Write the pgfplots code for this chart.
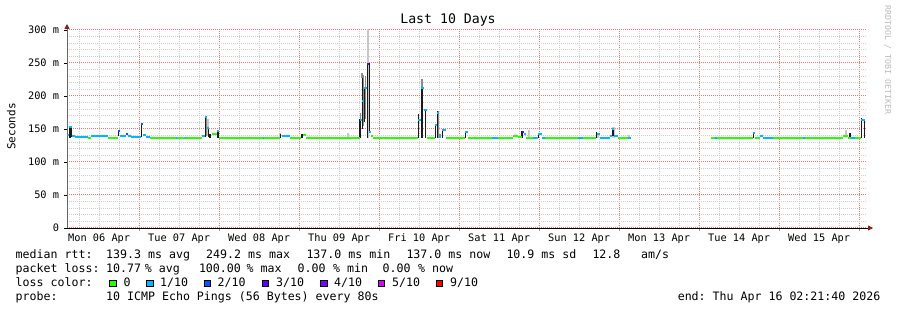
\documentclass[border=0pt]{standalone}
\usepackage{fontspec}
\setmainfont{DejaVu Sans Mono}
\usepackage{pgfplots}
\pgfplotsset{compat=1.18}
\usetikzlibrary{arrows.meta}
\definecolor{lc0}{HTML}{26FF00}
\definecolor{lc1}{HTML}{00B8FF}
\definecolor{lc2}{HTML}{0059FF}
\definecolor{lc3}{HTML}{5E00FF}
\definecolor{lc4}{HTML}{7E00FF}
\definecolor{lc5}{HTML}{DD00FF}
\definecolor{lc9}{HTML}{FF0000}
\definecolor{majgrid}{HTML}{FF7070}
\definecolor{mingrid}{HTML}{CDCDCD}
\definecolor{arrowred}{HTML}{8B1A1A}
\definecolor{axisgrey}{HTML}{666666}
\definecolor{smokelt}{HTML}{C8C8C8}
\definecolor{smokemd}{HTML}{8C8C8C}
\definecolor{smokedk}{HTML}{1A1A1A}
\definecolor{wmark}{HTML}{BBBBBB}
\newcommand{\sw}[1]{{\setlength{\fboxsep}{0pt}\setlength{\fboxrule}{0.6pt}\fcolorbox{black}{#1}{\rule{0pt}{5.8pt}\hspace{5.8pt}}}}
\newcommand{\legfont}{\fontsize{11.6}{14}\selectfont}
\frenchspacing
\begin{document}
\begin{tikzpicture}[x=1pt,y=1pt]
\useasboundingbox (0,0) rectangle (897,310);
\begin{axis}[
  at={(67pt,82pt)}, anchor=south west, scale only axis,
  width=800pt, height=198pt,
  xmin=2.36, xmax=242.36, ymin=0, ymax=300,
  unbounded coords=jump,
  axis x line=bottom, axis y line=left,
  x axis line style={black, line width=0.8pt, shorten >=-6pt, -{Triangle[length=5pt,width=5pt,color=arrowred]}},
  y axis line style={axisgrey, line width=0.9pt, shorten >=-6pt, -{Triangle[length=5pt,width=5pt,color=arrowred]}},
  grid=both,
  every major grid/.style={draw=majgrid, line width=1pt, dash pattern=on 1pt off 1pt},
  every minor grid/.style={draw=mingrid, line width=0.6pt, dash pattern=on 1pt off 1pt},
  xtick={24,48,72,96,120,144,168,192,216,240},
  xticklabels={},
  minor xtick={6,12,18,30,36,42,54,60,66,78,84,90,102,108,114,126,132,138,150,156,162,174,180,186,198,204,210,222,228,234},
  extra x ticks={12,36,60,84,108,132,156,180,204,228},
  extra x tick labels={Mon 06 Apr,Tue 07 Apr,Wed 08 Apr,Thu 09 Apr,Fri 10 Apr,Sat 11 Apr,Sun 12 Apr,Mon 13 Apr,Tue 14 Apr,Wed 15 Apr},
  extra x tick style={grid=none, major tick length=0pt},
  ytick={0,50,100,150,200,250,300},
  yticklabels={0,50 m,100 m,150 m,200 m,250 m,300 m},
  minor ytick={10,20,30,40,60,70,80,90,110,120,130,140,160,170,180,190,210,220,230,240,260,270,280,290},
  tick align=outside, major tick length=3pt, minor tick length=0pt,
  xtick style={draw=majgrid, line width=0.6pt},
  ytick style={draw=black, line width=0.6pt},
  xticklabel style={font=\fontsize{10.3}{12}\selectfont, anchor=base, inner sep=0pt, yshift=-13.5pt},
  yticklabel style={font=\fontsize{10.3}{12}\selectfont, anchor=east, inner sep=0pt, xshift=-4.7pt},
]
% light smoke
\addplot[smokelt, line width=2.2pt, line cap=butt] coordinates {
(92.75,137)(92.75,303)(92.75,nan)
(66.2,137)(66.2,144)(66.2,nan)
(86.66,137)(86.66,144)(86.66,nan)
(44.5,140)(44.5,165)(44.5,nan)
(140.9,137)(140.9,148)(140.9,nan)
(161.6,137)(161.6,144)(161.6,nan)
(166.3,137)(166.3,153)(166.3,nan)
(170.9,137)(170.9,141)(170.9,nan)
(236.1,137)(236.1,148)
};
% medium smoke
\addplot[smokemd, line width=1.8pt, line cap=butt] coordinates {
(44.2,140)(44.2,166)(44.2,nan)
(90.4,165)(90.4,174)(90.4,nan)
(90.95,228)(90.95,235)(90.95,nan)
(91.25,155)(91.25,232)(91.25,nan)
(91.9,165)(91.9,230)(91.9,nan)
(108.8,213)(108.8,226)(108.8,nan)
(113.75,137)(113.75,178)(113.75,nan)
(114.25,137)(114.25,143)
};
% dark smoke
\addplot[smokedk, line width=1.6pt, line cap=butt] coordinates {
(3.2,137)(3.2,155)(3.2,nan)
(3.7,138)(3.7,151)(3.7,nan)
(17.8,139)(17.8,148)(17.8,nan)
(24.7,138)(24.7,158)(24.7,nan)
(43.9,138)(43.9,170)(43.9,nan)
(44.8,138)(44.8,152)(44.8,nan)
(45.3,137)(45.3,143)(45.3,nan)
(47.6,137)(47.6,148)(47.6,nan)
(66.4,137)(66.4,143)(66.4,nan)
(72.8,137)(72.8,142)(72.8,nan)
(90.3,137)(90.3,165)(90.3,nan)
(90.95,150)(90.95,228)(90.95,nan)
(91.6,160)(91.6,213)(91.6,nan)
(92.45,137)(92.45,250)(92.45,nan)
(93.05,146)(93.05,250)(93.05,nan)
(107.8,137)(107.8,172)(107.8,nan)
(108.8,137)(108.8,213)(108.8,nan)
(109.9,137)(109.9,180)(109.9,nan)
(112.9,137)(112.9,157)(112.9,nan)
(113.5,137)(113.5,177)(113.5,nan)
(115.0,137)(115.0,149)(115.0,nan)
(121.9,137)(121.9,147)(121.9,nan)
(138.9,137)(138.9,147)(138.9,nan)
(143.8,137)(143.8,144)(143.8,nan)
(161.2,137)(161.2,146)(161.2,nan)
(166.1,140)(166.1,151)(166.1,nan)
(208.3,137)(208.3,146)(208.3,nan)
(237.3,137)(237.3,144)(237.3,nan)
(240.7,137)(240.7,166)(240.7,nan)
(241.6,137)(241.6,165)
};
% median, loss 0
\addplot[lc0, line width=1.9pt, line cap=butt] coordinates {
(8.66,137)(9.56,137)(9.56,nan)
(14.66,137)(17.66,137)(17.66,nan)
(27.26,137)(42.86,137)(42.86,nan)
(45.86,142)(47.36,142)(47.36,nan)
(47.96,137)(66.26,137)(66.26,nan)
(69.26,137)(72.56,137)(72.56,nan)
(73.16,141)(74.06,141)(74.06,nan)
(74.06,137)(90.26,137)(90.26,nan)
(93.56,140)(94.16,140)(94.16,nan)
(94.16,137)(107.66,137)(107.66,nan)
(110.36,137)(112.76,137)(112.76,nan)
(116.06,137)(121.76,137)(121.76,nan)
(122.66,137)(136.16,137)(136.16,nan)
(136.16,140)(137.66,140)(137.66,nan)
(137.66,138)(138.86,138)(138.86,nan)
(140.06,137)(143.66,137)(143.66,nan)
(145.76,137)(161.06,137)(161.06,nan)
(167.66,137)(170.66,137)(170.66,nan)
(195.56,137)(208.16,137)(208.16,nan)
(208.76,137)(210.26,137)(210.26,nan)
(214.16,137)(235.16,137)(235.16,nan)
(235.16,139)(236.66,139)(236.66,nan)
(236.66,137)(237.56,137)(237.56,nan)
(238.76,137)(240.56,137)
};
% median, loss 1/10
\addplot[lc1, line width=1.9pt, line cap=butt] coordinates {
(2.36,141)(2.96,141)(2.96,nan)
(2.96,153)(3.86,153)(3.86,nan)
(3.86,140)(4.76,140)(4.76,nan)
(4.76,138)(8.66,138)(8.66,nan)
(9.56,139)(14.66,139)(14.66,nan)
(18.26,140)(20.06,140)(20.06,nan)
(20.66,140)(21.56,140)(21.56,nan)
(21.56,138)(24.56,138)(24.56,nan)
(25.16,141)(26.06,141)(26.06,nan)
(26.06,138)(27.26,138)(27.26,nan)
(35.06,137)(35.36,137)(35.36,nan)
(37.76,137)(38.06,137)(38.06,nan)
(42.86,140)(43.76,140)(43.76,nan)
(43.76,168)(44.36,168)(44.36,nan)
(44.36,152)(44.96,152)(44.96,nan)
(47.36,147)(47.96,147)(47.96,nan)
(61.16,137)(61.46,137)(61.46,nan)
(66.86,140)(69.26,140)(69.26,nan)
(90.26,164)(90.86,164)(90.86,nan)
(90.86,193)(91.46,193)(91.46,nan)
(91.46,212)(92.36,212)(92.36,nan)
(92.96,146)(93.56,146)(93.56,nan)
(107.66,163)(108.56,163)(108.56,nan)
(108.56,212)(109.46,212)(109.46,nan)
(109.46,179)(110.36,179)(110.36,nan)
(112.76,156)(113.36,156)(113.36,nan)
(113.36,174)(113.96,174)(113.96,nan)
(113.96,138)(114.56,138)(114.56,nan)
(114.86,148)(116.06,148)(116.06,nan)
(121.76,146)(122.66,146)(122.66,nan)
(129.86,137)(131.66,137)(131.66,nan)
(139.46,142)(140.06,142)(140.06,nan)
(142.16,137)(143.36,137)(143.36,nan)
(143.66,143)(144.86,143)(144.86,nan)
(144.86,137)(145.76,137)(145.76,nan)
(155.66,137)(157.16,137)(157.16,nan)
(161.36,142)(162.26,142)(162.26,nan)
(162.26,137)(165.26,137)(165.26,nan)
(165.26,139)(165.86,139)(165.86,nan)
(165.86,150)(166.46,150)(166.46,nan)
(166.46,139)(167.66,139)(167.66,nan)
(170.66,137)(171.56,137)(171.56,nan)
(196.76,137)(197.36,137)(197.36,nan)
(208.16,144)(208.76,144)(208.76,nan)
(210.26,139)(211.16,139)(211.16,nan)
(211.16,137)(214.16,137)(214.16,nan)
(223.16,137)(223.76,137)(223.76,nan)
(237.56,137)(238.76,137)(238.76,nan)
(240.56,164)(241.76,164)
};
% median, loss 2/10
\addplot[lc2, line width=1.9pt, line cap=butt] coordinates {
(17.66,147)(18.26,147)(18.26,nan)
(20.06,142)(20.66,142)(20.66,nan)
(24.56,157)(25.16,157)
};
% median, loss 3/10
\addplot[lc3, line width=1.9pt, line cap=butt] coordinates {
(92.36,249)(92.96,249)(92.96,nan)
(138.86,146)(139.46,146)
};
\end{axis}
% titles and texts
\node[anchor=base, inner sep=0pt, font=\fontsize{13.2}{15}\selectfont] at (448,286) {Last 10 Days};
\node[rotate=90, anchor=base, inner sep=0pt, font=\fontsize{11}{13}\selectfont] at (15.5,183.5) {Seconds};
\node[rotate=-90, anchor=base, inner sep=0pt, font=\fontsize{8.3}{10}\selectfont, text=wmark] at (885,250) {RRDTOOL / TOBI OETIKER};
% legend lines
\node[anchor=base west, inner sep=0pt, font=\legfont] at (15.5,51.7) {median rtt:};
\node[anchor=base west, inner sep=0pt, font=\legfont] at (106,51.7) {139.3 ms avg};
\node[anchor=base west, inner sep=0pt, font=\legfont] at (206,51.7) {249.2 ms max};
\node[anchor=base west, inner sep=0pt, font=\legfont] at (306.3,51.7) {137.0 ms min};
\node[anchor=base west, inner sep=0pt, font=\legfont] at (406.3,51.7) {137.0 ms now};
\node[anchor=base west, inner sep=0pt, font=\legfont] at (506.3,51.7) {10.9 ms sd};
\node[anchor=base west, inner sep=0pt, font=\legfont] at (592.3,51.7) {12.8};
\node[anchor=base west, inner sep=0pt, font=\legfont] at (641,51.7) {am/s};
\node[anchor=base west, inner sep=0pt, font=\legfont] at (15.5,37.7) {packet loss:};
\node[anchor=base west, inner sep=0pt, font=\legfont] at (106,37.7) {10.77};
\node[anchor=base west, inner sep=0pt, font=\legfont] at (144.7,37.7) {\% avg};
\node[anchor=base west, inner sep=0pt, font=\legfont] at (198.8,37.7) {100.00};
\node[anchor=base west, inner sep=0pt, font=\legfont] at (246.4,37.7) {\% max};
\node[anchor=base west, inner sep=0pt, font=\legfont] at (297.5,37.7) {0.00};
\node[anchor=base west, inner sep=0pt, font=\legfont] at (333,37.7) {\% min};
\node[anchor=base west, inner sep=0pt, font=\legfont] at (382.5,37.7) {0.00};
\node[anchor=base west, inner sep=0pt, font=\legfont] at (418,37.7) {\% now};
\node[anchor=base west, inner sep=0pt, font=\legfont] at (15.5,23.7) {loss color:};
\node[anchor=base west, inner sep=0pt] at (109,23.7) {\sw{lc0}};
\node[anchor=base west, inner sep=0pt, font=\legfont] at (123.5,23.7) {0};
\node[anchor=base west, inner sep=0pt] at (146,23.7) {\sw{lc1}};
\node[anchor=base west, inner sep=0pt, font=\legfont] at (160,23.7) {1/10};
\node[anchor=base west, inner sep=0pt] at (203.3,23.7) {\sw{lc2}};
\node[anchor=base west, inner sep=0pt, font=\legfont] at (217.5,23.7) {2/10};
\node[anchor=base west, inner sep=0pt] at (261.7,23.7) {\sw{lc3}};
\node[anchor=base west, inner sep=0pt, font=\legfont] at (276,23.7) {3/10};
\node[anchor=base west, inner sep=0pt] at (320,23.7) {\sw{lc4}};
\node[anchor=base west, inner sep=0pt, font=\legfont] at (334,23.7) {4/10};
\node[anchor=base west, inner sep=0pt] at (377.7,23.7) {\sw{lc5}};
\node[anchor=base west, inner sep=0pt, font=\legfont] at (392,23.7) {5/10};
\node[anchor=base west, inner sep=0pt] at (435.7,23.7) {\sw{lc9}};
\node[anchor=base west, inner sep=0pt, font=\legfont] at (450,23.7) {9/10};
\node[anchor=base west, inner sep=0pt, font=\legfont] at (15.5,9.7) {probe:};
\node[anchor=base west, inner sep=0pt, font=\legfont] at (106,9.7) {10 ICMP Echo Pings (56 Bytes) every 80s};
\node[anchor=base east, inner sep=0pt, font=\legfont] at (880.5,9.7) {end: Thu Apr 16 02:21:40 2026};
\end{tikzpicture}
\end{document}
